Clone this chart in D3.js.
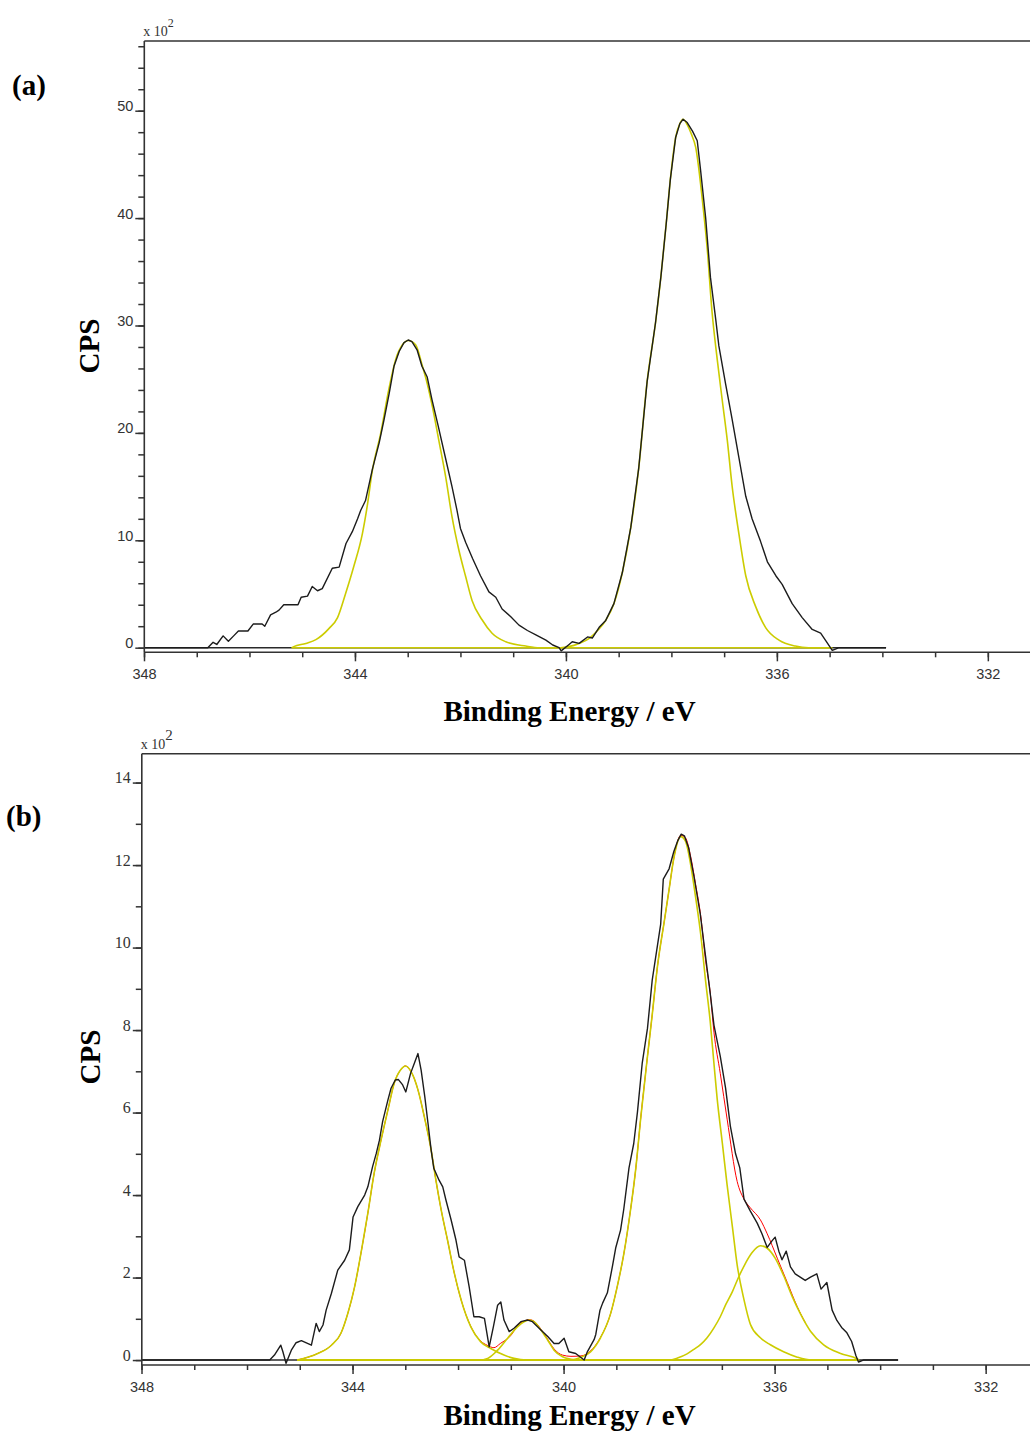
<!DOCTYPE html>
<html>
<head>
<meta charset="utf-8">
<script src="https://cdn.jsdelivr.net/npm/d3@7"></script>
<style>
  body { margin: 0; background: #fff; }
  svg { display: block; }
</style>
</head>
<body>
<svg id="chart" width="1030" height="1439"></svg>
<script>
// ---- Tick values ----
const xTickValues = [348, 344, 340, 336, 332];
const yTickValuesA = [0, 10, 20, 30, 40, 50];
const yTickValuesB = [0, 2, 4, 6, 8, 10, 12, 14];

// ---- Panel (a): measured spectrum [binding energy eV, CPS x10^2] ----
const spectrumA = [
  [348.0, 0], [346.79, 0], [346.69, 0.5], [346.62, 0.3], [346.50, 1.1], [346.40, 0.6], [346.30, 1.1],
  [346.21, 1.55], [346.03, 1.55], [345.93, 2.2], [345.76, 2.2], [345.71, 2.0], [345.60, 3.05],
  [345.50, 3.3], [345.44, 3.5], [345.35, 4.0], [345.08, 4.0], [345.02, 4.7], [344.90, 4.8],
  [344.81, 5.7], [344.71, 5.3], [344.62, 5.5], [344.43, 7.4], [344.30, 7.5], [344.17, 9.7],
  [344.05, 10.8], [343.95, 12.0], [343.89, 12.8], [343.80, 13.7], [343.67, 16.6], [343.54, 19.1],
  [343.45, 21.2], [343.35, 23.7], [343.26, 26.2], [343.16, 27.6], [343.07, 28.4], [342.99, 28.65],
  [342.92, 28.5], [342.82, 27.7], [342.73, 26.2], [342.63, 25.2], [342.54, 23.1], [342.42, 20.6],
  [342.29, 17.8], [342.16, 15.0], [342.07, 12.9], [342.00, 11.1], [341.90, 9.8], [341.77, 8.3],
  [341.62, 6.7], [341.46, 5.2], [341.33, 4.7], [341.21, 3.6], [341.05, 2.9], [340.89, 2.1],
  [340.73, 1.6], [340.57, 1.2], [340.38, 0.7], [340.25, 0.25], [340.13, 0], [340.09, -0.3],
  [339.94, 0.3], [339.88, 0.55], [339.75, 0.4], [339.59, 1.0], [339.50, 0.9], [339.37, 1.9],
  [339.25, 2.5], [339.09, 4.1], [338.93, 7.0], [338.77, 11.2], [338.62, 16.7], [338.46, 24.8],
  [338.30, 30.3], [338.20, 34.5], [338.10, 39.4], [338.02, 43.6], [337.92, 47.5], [337.84, 48.8],
  [337.78, 49.2], [337.70, 48.9], [337.60, 48.1], [337.51, 47.2], [337.45, 44.6], [337.35, 40.0],
  [337.26, 34.5], [337.16, 30.6], [337.10, 28.1], [336.97, 24.5], [336.85, 21.3], [336.72, 17.7],
  [336.59, 14.1], [336.47, 12.0], [336.31, 9.9], [336.18, 8.0], [336.02, 6.7], [335.90, 5.9],
  [335.71, 4.1], [335.52, 2.8], [335.33, 1.7], [335.17, 1.35], [335.08, 0.7], [334.95, -0.25],
  [334.82, 0], [333.93, 0]
];

// Fitted component near 343 eV
const componentA1 = [
  [345.20, 0], [345.16, 0.1], [344.93, 0.4], [344.74, 0.75], [344.49, 1.8], [344.33, 2.8],
  [344.18, 5.0], [344.02, 7.6], [343.86, 10.6], [343.77, 13.1], [343.67, 16.5], [343.51, 20.0],
  [343.36, 24.0], [343.23, 26.8], [343.10, 28.2], [342.99, 28.6], [342.85, 28.2], [342.72, 26.2],
  [342.63, 24.6], [342.53, 22.4], [342.41, 19.3], [342.28, 15.9], [342.16, 12.2], [342.03, 9.1],
  [341.90, 6.6], [341.78, 4.4], [341.59, 2.6], [341.40, 1.35], [341.14, 0.55], [340.76, 0.15],
  [340.50, 0], [334.95, 0]
];

// Fitted component near 337.8 eV
const componentA2 = [
  [345.20, 0], [340.10, 0], [339.95, 0.1], [339.75, 0.4], [339.55, 0.9], [339.40, 1.6],
  [339.25, 2.5], [339.09, 4.1], [338.93, 7.0], [338.77, 11.2], [338.62, 16.7], [338.46, 24.8],
  [338.30, 30.3], [338.20, 34.5], [338.10, 39.4], [338.02, 43.6], [337.92, 47.5], [337.84, 48.8],
  [337.78, 49.2], [337.70, 48.7], [337.62, 47.8], [337.54, 46.6], [337.42, 42.0], [337.32, 37.1],
  [337.23, 31.3], [337.13, 26.8], [337.04, 23.2], [336.94, 19.3], [336.85, 15.1], [336.72, 10.6],
  [336.59, 6.7], [336.40, 3.8], [336.21, 1.85], [335.96, 0.7], [335.65, 0.15], [335.40, 0],
  [334.95, 0]
];

const baselineA = [[348.0, 0], [333.93, 0]];

// ---- Panel (b): measured spectrum ----
const spectrumB = [
  [348.0, 0], [345.57, 0], [345.48, 0.12], [345.36, 0.36], [345.32, 0.2], [345.26, -0.08],
  [345.16, 0.24], [345.07, 0.42], [344.97, 0.47], [344.78, 0.36], [344.69, 0.89], [344.63, 0.69],
  [344.56, 0.85], [344.50, 1.21], [344.40, 1.62], [344.28, 2.18], [344.15, 2.42], [344.06, 2.67],
  [343.99, 3.47], [343.90, 3.72], [343.77, 4.0], [343.71, 4.2], [343.62, 4.69], [343.55, 5.01],
  [343.49, 5.33], [343.43, 5.78], [343.33, 6.3], [343.27, 6.59], [343.19, 6.79], [343.13, 6.8],
  [343.05, 6.67], [342.99, 6.5], [342.90, 6.95], [342.83, 7.19], [342.76, 7.43], [342.70, 7.03],
  [342.63, 6.38], [342.57, 5.74], [342.51, 5.09], [342.46, 4.65], [342.36, 4.36], [342.29, 4.2],
  [342.23, 3.88], [342.13, 3.39], [342.04, 2.91], [341.98, 2.5], [341.88, 2.42], [341.79, 1.78],
  [341.70, 1.05], [341.60, 1.05], [341.50, 1.01], [341.41, 0.32], [341.33, 0.81], [341.25, 1.33],
  [341.19, 1.41], [341.13, 0.97], [341.03, 0.69], [340.94, 0.77], [340.81, 0.93], [340.68, 0.97],
  [340.59, 0.93], [340.43, 0.73], [340.30, 0.57], [340.18, 0.4], [340.09, 0.4], [339.99, 0.53],
  [339.90, 0.2], [339.77, 0.16], [339.61, 0], [339.55, 0.2], [339.42, 0.5], [339.39, 0.62],
  [339.31, 1.21], [339.26, 1.38], [339.17, 1.63], [339.07, 2.3], [339.01, 2.73], [338.92, 3.15],
  [338.86, 3.65], [338.76, 4.66], [338.67, 5.25], [338.60, 6.01], [338.51, 7.19], [338.41, 8.04],
  [338.32, 9.21], [338.26, 9.72], [338.16, 10.56], [338.11, 11.66], [338.00, 11.91], [337.91, 12.33],
  [337.84, 12.58], [337.77, 12.75], [337.71, 12.71], [337.63, 12.42], [337.53, 11.74], [337.41, 10.82],
  [337.31, 9.8], [337.22, 8.88], [337.15, 8.12], [337.03, 7.36], [336.93, 6.6], [336.84, 5.68],
  [336.74, 5.0], [336.66, 4.66], [336.58, 3.9], [336.46, 3.61], [336.33, 3.32], [336.24, 3.06],
  [336.14, 2.73], [336.05, 2.89], [335.99, 2.98], [335.92, 2.64], [335.86, 2.43], [335.78, 2.64],
  [335.70, 2.26], [335.61, 2.09], [335.42, 1.93], [335.32, 2.01], [335.20, 2.09], [335.12, 1.72],
  [335.01, 1.88], [334.91, 1.21], [334.82, 0.96], [334.73, 0.79], [334.63, 0.66], [334.54, 0.45],
  [334.46, 0.11], [334.41, -0.05], [334.32, 0], [333.66, 0]
];

const componentB1 = [
  [345.05, 0], [344.66, 0.16], [344.40, 0.36], [344.22, 0.65], [344.09, 1.13], [343.96, 1.78],
  [343.84, 2.59], [343.71, 3.56], [343.59, 4.53], [343.46, 5.33], [343.33, 6.06], [343.21, 6.71],
  [343.08, 7.05], [343.00, 7.13], [342.89, 6.99], [342.76, 6.55], [342.64, 5.9], [342.51, 5.09],
  [342.42, 4.36], [342.32, 3.64], [342.20, 2.91], [342.07, 2.1], [341.94, 1.45], [341.76, 0.81],
  [341.57, 0.44], [341.38, 0.28], [341.13, 0.12], [340.94, 0.04], [340.70, 0], [334.40, 0]
];

const componentB2 = [
  [345.05, 0], [341.60, 0], [341.44, 0.04], [341.25, 0.24], [341.06, 0.53], [340.87, 0.81],
  [340.75, 0.93], [340.65, 0.97], [340.56, 0.93], [340.43, 0.73], [340.30, 0.48], [340.18, 0.24],
  [340.02, 0.08], [339.86, 0.02], [339.70, 0], [334.40, 0]
];

const componentB3 = [
  [345.05, 0], [339.85, 0], [339.67, 0.07], [339.49, 0.2], [339.30, 0.54], [339.11, 1.12],
  [338.98, 1.8], [338.86, 2.56], [338.73, 3.65], [338.63, 4.66], [338.54, 5.84], [338.41, 7.36],
  [338.32, 8.37], [338.22, 9.55], [338.09, 10.65], [338.00, 11.41], [337.91, 12.17], [337.78, 12.69],
  [337.69, 12.58], [337.59, 12.0], [337.50, 11.24], [337.40, 10.31], [337.31, 9.21], [337.22, 8.2],
  [337.15, 7.19], [337.09, 6.35], [336.99, 5.25], [336.90, 4.24], [336.80, 3.23], [336.71, 2.31],
  [336.58, 1.46], [336.46, 0.87], [336.27, 0.54], [336.08, 0.37], [335.83, 0.2], [335.57, 0.07],
  [335.30, 0], [334.40, 0]
];

const componentB4 = [
  [345.05, 0], [338.00, 0], [337.84, 0.05], [337.66, 0.15], [337.53, 0.26], [337.40, 0.38],
  [337.28, 0.54], [337.15, 0.78], [337.03, 1.05], [336.92, 1.36], [336.80, 1.66], [336.70, 1.96],
  [336.58, 2.28], [336.43, 2.6], [336.27, 2.77], [336.14, 2.71], [335.99, 2.47], [335.83, 2.05],
  [335.67, 1.55], [335.51, 1.12], [335.32, 0.7], [335.07, 0.37], [334.75, 0.16], [334.44, 0.03],
  [334.40, 0]
];

// Fit envelope
const envelopeB = [
  [345.05, 0], [344.66, 0.16], [344.40, 0.36], [344.22, 0.65], [344.09, 1.13], [343.96, 1.78],
  [343.84, 2.59], [343.71, 3.56], [343.59, 4.53], [343.46, 5.33], [343.33, 6.06], [343.21, 6.71],
  [343.08, 7.05], [343.00, 7.13], [342.89, 6.99], [342.76, 6.55], [342.64, 5.9], [342.51, 5.09],
  [342.42, 4.36], [342.32, 3.64], [342.20, 2.91], [342.07, 2.1], [341.94, 1.45], [341.76, 0.82],
  [341.57, 0.46], [341.45, 0.36], [341.32, 0.3], [341.20, 0.4], [340.99, 0.61], [340.87, 0.84],
  [340.75, 0.94], [340.65, 0.98], [340.56, 0.94], [340.43, 0.75], [340.30, 0.5], [340.18, 0.27],
  [340.02, 0.12], [339.86, 0.09], [339.67, 0.1], [339.49, 0.22], [339.30, 0.55], [339.11, 1.12],
  [338.98, 1.8], [338.86, 2.56], [338.73, 3.65], [338.63, 4.66], [338.54, 5.84], [338.41, 7.36],
  [338.32, 8.37], [338.22, 9.55], [338.09, 10.65], [338.00, 11.41], [337.91, 12.17], [337.78, 12.72],
  [337.69, 12.66], [337.59, 12.2], [337.50, 11.55], [337.40, 10.76], [337.31, 9.7], [337.22, 8.9],
  [337.15, 7.95], [337.03, 6.95], [336.90, 5.84], [336.71, 4.33], [336.58, 3.9], [336.46, 3.69],
  [336.27, 3.4], [336.14, 3.06], [335.95, 2.47], [335.76, 1.88], [335.57, 1.29], [335.42, 0.91]
];

const baselineB = [[348.0, 0], [333.66, 0]];

// ---- Drawing ----
const svg = d3.select("#chart");
const FRAME = "#333";
const TICK_FONT = "'Liberation Sans', Arial, sans-serif";
const SERIF = "'Liberation Serif', 'Times New Roman', serif";

function drawPanel(p) {
  const g = svg.append("g");
  const x = d3.scaleLinear().domain(p.xDomain).range([p.left, 1030]);
  const y = d3.scaleLinear().domain(p.yDomain).range([p.bottom, p.top]);
  const axisX = x(348) + 0.3;

  const line = d3.line().x(d => x(d[0])).y(d => y(d[1]));
  const smooth = d3.line().x(d => x(d[0])).y(d => y(d[1])).curve(d3.curveMonotoneX);

  // zero line of the measurement window
  g.append("path").attr("d", line(p.baseline))
    .attr("fill", "none").attr("stroke", "#2a2a2a").attr("stroke-width", 1.4);

  // fit envelope (components are drawn over it)
  if (p.envelope) {
    g.append("path").attr("d", smooth(p.envelope))
      .attr("fill", "none").attr("stroke", "#ff0000").attr("stroke-width", 1.0);
  }

  // fitted components
  p.components.forEach(c => {
    g.append("path").attr("d", smooth(c))
      .attr("fill", "none").attr("stroke", "#cccc00").attr("stroke-width", 1.6);
  });

  // measured spectrum
  g.append("path").attr("d", line(p.spectrum))
    .attr("fill", "none").attr("stroke", "#1c1c1c").attr("stroke-width", 1.4)
    .attr("stroke-linejoin", "round");

  // frame: left axis, top border, bottom axis
  g.append("line").attr("x1", axisX).attr("x2", axisX).attr("y1", p.top).attr("y2", p.bottom)
    .attr("stroke", FRAME).attr("stroke-width", 1.6);
  g.append("line").attr("x1", axisX).attr("x2", 1030).attr("y1", p.top).attr("y2", p.top)
    .attr("stroke", FRAME).attr("stroke-width", 1.6);
  g.append("line").attr("x1", axisX).attr("x2", 1030).attr("y1", p.bottom).attr("y2", p.bottom)
    .attr("stroke", FRAME).attr("stroke-width", 1.6);

  // x ticks
  const xMinor = d3.axisBottom(x).tickValues(d3.range(348, 331, -1)).tickSize(5).tickFormat("");
  const xMajor = d3.axisBottom(x).tickValues(xTickValues).tickSize(9).tickPadding(4)
    .tickFormat(d3.format("d"));
  [xMinor, xMajor].forEach(ax => {
    const a = g.append("g").attr("transform", `translate(0,${p.bottom})`).call(ax);
    a.select(".domain").remove();
    a.selectAll("line").attr("stroke", FRAME).attr("stroke-width", 1.5);
    a.selectAll("text").attr("fill", "#333").attr("font-family", TICK_FONT)
      .attr("font-size", 14.5).attr("y", 27).attr("dy", 0);
  });

  // y ticks
  const yMinor = d3.axisLeft(y).tickValues(p.yMinor).tickSize(6).tickFormat("");
  const yMajor = d3.axisLeft(y).tickValues(p.yTicks).tickSize(9).tickPadding(2)
    .tickFormat(d3.format("d"));
  [yMinor, yMajor].forEach(ax => {
    const a = g.append("g").attr("transform", `translate(${axisX},0)`).call(ax);
    a.select(".domain").remove();
    a.selectAll("line").attr("stroke", FRAME).attr("stroke-width", 1.5);
    a.selectAll("text").attr("fill", "#333").attr("font-family", p.yFont)
      .attr("font-size", p.yFontSize).attr("dy", 0).attr("x", -11);
  });

  // scale multiplier
  const mult = g.append("text").attr("x", axisX - 1).attr("y", p.top - 5)
    .attr("font-family", SERIF).attr("font-size", 14).attr("fill", "#333");
  mult.append("tspan").text("x 10");
  mult.append("tspan").attr("dy", -9).attr("font-size", p.supSize).text("2");

  // axis titles
  g.append("text").attr("x", 569.5).attr("y", p.xTitleY)
    .attr("text-anchor", "middle").attr("font-family", SERIF).attr("font-weight", "bold")
    .attr("font-size", 29).attr("fill", "#000").text("Binding Energy / eV");
  g.append("text")
    .attr("transform", `translate(${p.cpsX},${p.cpsY}) rotate(-90)`)
    .attr("text-anchor", "middle").attr("dy", "0.35em")
    .attr("font-family", SERIF).attr("font-weight", "bold")
    .attr("font-size", 29).attr("fill", "#000").text("CPS");
  g.append("text").attr("x", p.tagX).attr("y", p.tagY)
    .attr("font-family", SERIF).attr("font-weight", "bold")
    .attr("font-size", 29).attr("fill", "#000").text(p.tag);
}

drawPanel({
  tag: "(a)", tagX: 12, tagY: 95,
  left: 144, xDomain: [348, 348 - (1030 - 144) / 52.74],
  top: 41, bottom: 652.3, yDomain: [-0.43, 56.49],
  yTicks: yTickValuesA, yMinor: d3.range(0, 57, 2),
  yFont: TICK_FONT, yFontSize: 14.5, supSize: 12,
  spectrum: spectrumA, components: [componentA1, componentA2], baseline: baselineA,
  xTitleY: 721, cpsX: 89, cpsY: 346
});

drawPanel({
  tag: "(b)", tagX: 6, tagY: 826,
  left: 141.5, xDomain: [348, 348 - (1030 - 141.5) / 52.76],
  top: 753.7, bottom: 1365, yDomain: [-0.12, 14.7],
  yTicks: yTickValuesB, yMinor: d3.range(0, 15, 1),
  yFont: SERIF, yFontSize: 16, supSize: 15,
  spectrum: spectrumB, components: [componentB1, componentB2, componentB3, componentB4],
  envelope: envelopeB, baseline: baselineB,
  xTitleY: 1425, cpsX: 90, cpsY: 1057
});
</script>
</body>
</html>
